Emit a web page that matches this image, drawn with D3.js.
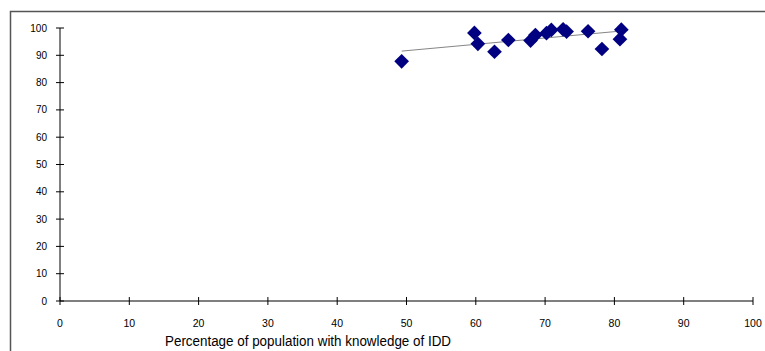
<!DOCTYPE html>
<html>
<head>
<meta charset="utf-8">
<script src="https://cdn.jsdelivr.net/npm/d3@7"></script>
<style>
  body { margin: 0; background: #fff; }
  svg { display: block; font-family: "Liberation Sans", Arial, sans-serif; }
</style>
</head>
<body>
<div id="chart"></div>
<script>
// knowledge of IDD (%) vs second indicator (%)
const knowledge = [49.3, 59.8, 60.3, 62.7, 64.7, 67.9, 68.6, 70.2, 70.9, 72.6, 73.1, 76.2, 78.2, 80.8, 81.0];
const outcome   = [87.8, 98.2, 94.2, 91.3, 95.6, 95.4, 97.4, 98.1, 99.3, 99.5, 98.7, 98.8, 92.3, 95.9, 99.4];
const xTicks = [0, 10, 20, 30, 40, 50, 60, 70, 80, 90, 100];
const yTicks = [0, 10, 20, 30, 40, 50, 60, 70, 80, 90, 100];
const xTitle = 'Percentage of population with knowledge of IDD';

const width = 765, height = 351;

const svg = d3.select('#chart').append('svg')
  .attr('width', width)
  .attr('height', height);

// outer frame (only top and left edges visible)
svg.append('path')
  .attr('d', 'M10.5,' + height + 'V11.5H' + width)
  .attr('fill', 'none')
  .attr('stroke', '#555')
  .attr('stroke-width', 1.5);

const x = d3.scaleLinear().domain([0, 100]).range([60, 753]);
const y = d3.scaleLinear().domain([0, 100]).range([301, 28]);

// axis lines
svg.append('line')
  .attr('x1', x(0)).attr('x2', x(0))
  .attr('y1', y(0)).attr('y2', y(100))
  .attr('stroke', '#000');
svg.append('line')
  .attr('x1', x(0)).attr('x2', x(100))
  .attr('y1', y(0)).attr('y2', y(0))
  .attr('stroke', '#000');

// cross ticks
svg.selectAll('.ytick').data(yTicks).enter().append('line')
  .attr('class', 'ytick')
  .attr('x1', x(0) - 4).attr('x2', x(0) + 4)
  .attr('y1', d => y(d)).attr('y2', d => y(d))
  .attr('stroke', '#000');
svg.selectAll('.xtick').data(xTicks).enter().append('line')
  .attr('class', 'xtick')
  .attr('x1', d => x(d)).attr('x2', d => x(d))
  .attr('y1', y(0) - 4).attr('y2', y(0) + 4)
  .attr('stroke', '#000');

// tick labels
svg.selectAll('.ylab').data(yTicks).enter().append('text')
  .attr('class', 'ylab')
  .attr('x', 47)
  .attr('y', d => y(d) + 3.5)
  .attr('text-anchor', 'end')
  .attr('font-size', 10)
  .text(d => d);
svg.selectAll('.xlab').data(xTicks).enter().append('text')
  .attr('class', 'xlab')
  .attr('x', d => x(d))
  .attr('y', 327)
  .attr('text-anchor', 'middle')
  .attr('font-size', 10.5)
  .text(d => d);

svg.append('text')
  .attr('x', 165)
  .attr('y', 346)
  .attr('font-size', 15.5)
  .attr('textLength', 286)
  .attr('lengthAdjust', 'spacingAndGlyphs')
  .text(xTitle);

// linear trend line
const mx = d3.mean(knowledge), my = d3.mean(outcome);
let sxy = 0, sxx = 0;
knowledge.forEach((k, i) => {
  sxy += (k - mx) * (outcome[i] - my);
  sxx += (k - mx) * (k - mx);
});
const slope = sxy / sxx, icpt = my - slope * mx;
const xExt = d3.extent(knowledge);
svg.append('line')
  .attr('x1', x(xExt[0])).attr('y1', y(icpt + slope * xExt[0]))
  .attr('x2', x(xExt[1])).attr('y2', y(icpt + slope * xExt[1]))
  .attr('stroke', '#666')
  .attr('stroke-width', 0.8);

// diamond markers
const diamond = d3.symbol().type(d3.symbolSquare).size(108);
svg.selectAll('.pt').data(knowledge).enter().append('path')
  .attr('class', 'pt')
  .attr('d', diamond)
  .attr('transform', (d, i) => 'translate(' + x(d) + ',' + y(outcome[i]) + ') rotate(45)')
  .attr('fill', '#000080');
</script>
</body>
</html>
